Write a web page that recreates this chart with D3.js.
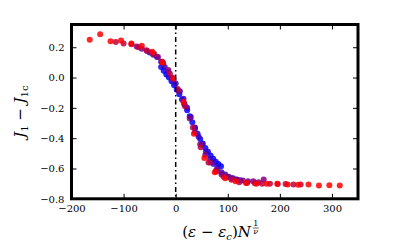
<!DOCTYPE html>
<html><head><meta charset="utf-8">
<script src="https://cdn.jsdelivr.net/npm/d3@7/dist/d3.min.js"></script>
<style>body{margin:0;background:#fff}svg{display:block}</style>
</head><body><svg id="c" width="398" height="246"></svg>
<script>
const seriesColors = ["rgb(0,0,255)", "rgb(64,0,191)", "rgb(128,0,128)", "rgb(191,0,64)", "rgb(255,0,0)"];
const x1 = [-28,-23,-18,-13,-8,-3,2,7,12,17,22,27,32,37,42,47,52,57,62,67,72,77,82,87];
const y1 = [0.07,0.045,0.02,0.0,-0.025,-0.05,-0.08,-0.11,-0.145,-0.18,-0.215,-0.255,-0.295,-0.335,-0.37,-0.405,-0.435,-0.465,-0.49,-0.515,-0.535,-0.555,-0.57,-0.585];
const x2 = [-50,-43,-36,-28,-21,-14,-7,0,8,15,22,29,37,44,51,58,66,73,80,88,95,102,110,117,124];
const y2 = [0.165,0.15,0.135,0.105,0.07,0.035,0.0,-0.04,-0.09,-0.14,-0.2,-0.26,-0.33,-0.39,-0.44,-0.49,-0.535,-0.57,-0.6,-0.625,-0.64,-0.655,-0.665,-0.672,-0.678];
const x3 = [-75,-65,-55,-44,-34,-24,-14,-4,6,16,27,37,47,57,67,78,88,98,108,118,129,139,149,159,169];
const y3 = [0.205,0.19,0.175,0.16,0.135,0.095,0.05,-0.015,-0.09,-0.17,-0.27,-0.36,-0.44,-0.51,-0.56,-0.61,-0.64,-0.655,-0.665,-0.675,-0.68,-0.685,-0.685,-0.69,-0.672];
const x4 = [-115,-100,-85,-71,-56,-41,-26,-11,4,18,33,48,63,78,92,107,122,137,152,166,181,196,211,226,240];
const y4 = [0.235,0.225,0.22,0.2,0.18,0.155,0.105,0.025,-0.075,-0.19,-0.33,-0.46,-0.56,-0.62,-0.655,-0.675,-0.69,-0.695,-0.698,-0.70,-0.70,-0.702,-0.703,-0.705,-0.706];
const x5 = [-165,-145,-125,-105,-85,-65,-45,-25,-5,15,35,55,75,95,115,135,155,175,195,215,235,255,275,295,315];
const y5 = [0.25,0.285,0.24,0.245,0.225,0.21,0.17,0.10,-0.005,-0.16,-0.37,-0.53,-0.625,-0.665,-0.685,-0.695,-0.70,-0.70,-0.70,-0.705,-0.707,-0.706,-0.712,-0.71,-0.713];
const xTicks = [-200,-100,0,100,200,300];
const yTicks = [-0.8,-0.6,-0.4,-0.2,0.0,0.2];
const vlineX = 0;

const series = [[x1,y1],[x2,y2],[x3,y3],[x4,y4],[x5,y5]];
const L = 71.5, R = 358, T = 24.5, B = 198.8;
const x = d3.scaleLinear().domain([-200, 350]).range([L, R]);
const y = d3.scaleLinear().domain([-0.8, 0.35]).range([B, T]);
const svg = d3.select("#c");
const font = "DejaVu Serif";

series.forEach((s, i) => {
  svg.append("g").selectAll("circle").data(s[0].map((v, k) => [v, s[1][k]])).join("circle")
    .attr("cx", d => x(d[0])).attr("cy", d => y(d[1])).attr("r", 3)
    .attr("fill", seriesColors[i]).attr("fill-opacity", 0.85);
});

svg.append("line").attr("x1", x(vlineX)).attr("x2", x(vlineX)).attr("y1", T).attr("y2", B)
  .attr("stroke", "#000").attr("stroke-width", 1.5).attr("stroke-dasharray", "5,3,1.5,3");

function fmtY(v){ const s = Math.abs(v).toFixed(1); return v < -1e-9 ? "\u2212" + s : s; }
function fmtX(v){ return v < 0 ? "\u2212" + Math.abs(v) : String(v); }

const ax = svg.append("g").attr("transform", `translate(0,${B})`)
  .call(d3.axisBottom(x).tickValues(xTicks).tickSize(-5).tickPadding(6).tickFormat(fmtX));
const ay = svg.append("g").attr("transform", `translate(${L},0)`)
  .call(d3.axisLeft(y).tickValues(yTicks).tickSize(-5).tickPadding(7).tickFormat(fmtY));
const axT = svg.append("g").attr("transform", `translate(0,${T})`)
  .call(d3.axisTop(x).tickValues(xTicks).tickSize(-5).tickFormat(""));
const ayR = svg.append("g").attr("transform", `translate(${R},0)`)
  .call(d3.axisRight(y).tickValues(yTicks).tickSize(-5).tickFormat(""));
[ax, ay, axT, ayR].forEach(g => {
  g.select(".domain").remove();
  g.selectAll("line").attr("stroke", "#000").attr("stroke-width", 1);
  g.selectAll("text").attr("font-family", font).attr("font-size", 10).attr("fill", "#000");
});

svg.append("rect").attr("x", L).attr("y", T).attr("width", R - L).attr("height", B - T)
  .attr("fill", "none").attr("stroke", "#000").attr("stroke-width", 3);

const xl = svg.append("text").attr("font-family", font).attr("font-size", 15).attr("x", 0).attr("y", 237);
xl.append("tspan").text("(");
xl.append("tspan").attr("font-style", "italic").text("\u03b5");
xl.append("tspan").text(" \u2212 ");
xl.append("tspan").attr("font-style", "italic").text("\u03b5");
xl.append("tspan").attr("font-style", "italic").attr("font-size", 10).attr("dy", 3).text("c");
xl.append("tspan").attr("dy", -3).text(")");
xl.append("tspan").attr("font-style", "italic").text("N");
const bb = xl.node().getBBox();
const xlW = bb.width + 8;
xl.attr("x", 221 - xlW / 2);
const fx = 221 - xlW / 2 + bb.width + 4;
svg.append("text").attr("font-family", font).attr("font-size", 8).attr("text-anchor", "middle")
  .attr("x", fx).attr("y", 226).text("1");
svg.append("line").attr("x1", fx - 3).attr("x2", fx + 3).attr("y1", 228).attr("y2", 228).attr("stroke", "#000").attr("stroke-width", 0.6);
svg.append("text").attr("font-family", font).attr("font-size", 8).attr("font-style", "italic").attr("text-anchor", "middle")
  .attr("x", fx).attr("y", 234).text("\u03bd");

const yl = svg.append("text").attr("font-family", font).attr("font-size", 15)
  .attr("text-anchor", "middle").attr("transform", `translate(25,${(T + B) / 2}) rotate(-90)`);
yl.append("tspan").attr("font-style", "italic").text("J");
yl.append("tspan").attr("font-size", 10).attr("dy", 3).text("1");
yl.append("tspan").attr("dy", -3).text(" \u2212 ");
yl.append("tspan").attr("font-style", "italic").text("J");
yl.append("tspan").attr("font-size", 10).attr("dy", 3).text("1c");
</script></body></html>
